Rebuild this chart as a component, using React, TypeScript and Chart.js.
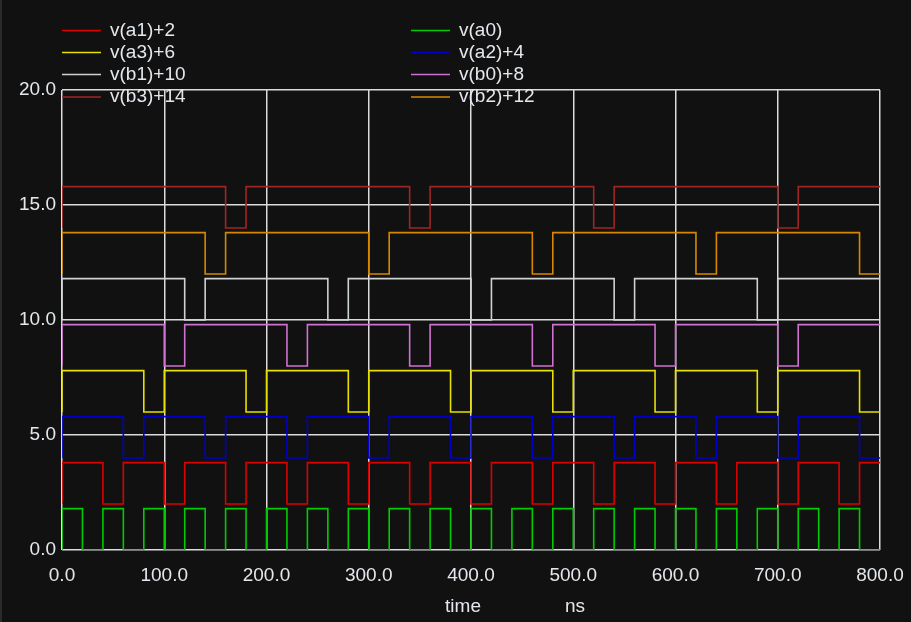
import React, { useEffect, useRef } from 'react';
import { Chart, registerables } from 'chart.js';

Chart.register(...registerables);

// ---- data ----
const seriesLabels = ['v(a1)+2', 'v(a0)', 'v(a3)+6', 'v(a2)+4', 'v(b1)+10', 'v(b0)+8', 'v(b3)+14', 'v(b2)+12'];
const seriesOffsets = [2, 0, 6, 4, 10, 8, 14, 12];
const seriesColors = ['#dd0000', '#00cc00', '#e8e000', '#0000cc', '#cdd3d3', '#d070d0', '#a02424', '#d88800'];
const highLevel = 1.8;

// toggle times (ns); every signal starts high at t = 0
const edgesA1 = [40, 60, 100, 120, 160, 180, 220, 240, 280, 300, 340, 360, 400, 420, 460, 480, 520, 540, 580, 600, 640, 660, 700, 720, 760, 780];
const edgesA0 = [20, 40, 60, 80, 100, 120, 140, 160, 180, 200, 220, 240, 260, 280, 300, 320, 340, 360, 380, 400, 420, 440, 460, 480, 500, 520, 540, 560, 580, 600, 620, 640, 660, 680, 700, 720, 740, 760, 780];
const edgesA3 = [80, 100, 180, 200, 280, 300, 380, 400, 480, 500, 580, 600, 680, 700, 780];
const edgesA2 = [60, 80, 140, 160, 220, 240, 300, 320, 380, 400, 460, 480, 540, 560, 620, 640, 700, 720, 780];
const edgesB1 = [120, 140, 260, 280, 400, 420, 540, 560, 680, 700];
const edgesB0 = [100, 120, 220, 240, 340, 360, 460, 480, 580, 600, 700, 720];
const edgesB3 = [160, 180, 340, 360, 520, 540, 700, 720];
const edgesB2 = [140, 160, 300, 320, 460, 480, 620, 640, 780];
const seriesEdges = [edgesA1, edgesA0, edgesA3, edgesA2, edgesB1, edgesB0, edgesB3, edgesB2];

const xMin = 0;
const xMax = 800;
const xStep = 100;
const yMin = 0;
const yMax = 20;
const yStep = 5;
const xTitle = 'time';
const xUnit = 'ns';

const FONT = "'Liberation Sans', Arial, sans-serif";
const TEXT_COLOR = '#e4e8ec';
const BG = '#111111';

function buildPoints(edges: number[], offset: number) {
  const pts: { x: number; y: number }[] = [];
  let level = 0;
  pts.push({ x: xMin, y: offset });
  level = highLevel;
  pts.push({ x: xMin, y: offset + level });
  for (const t of edges) {
    level = level > 0 ? 0 : highLevel;
    pts.push({ x: t, y: offset + level });
  }
  pts.push({ x: xMax, y: offset + level });
  return pts;
}

const overlayPlugin = {
  id: 'overlay',
  beforeDraw(chart: any) {
    const { ctx, width, height } = chart;
    ctx.save();
    ctx.fillStyle = BG;
    ctx.fillRect(0, 0, width, height);
    ctx.fillStyle = '#2a2a2a';
    ctx.fillRect(0, 0, 2, height);
    ctx.restore();
  },
  afterDraw(chart: any) {
    const { ctx } = chart;
    ctx.save();
    ctx.font = `19px ${FONT}`;
    ctx.textBaseline = 'middle';
    ctx.textAlign = 'left';
    const colX = [62, 411];
    const rowY = [30.5, 52.5, 74.5, 97];
    seriesLabels.forEach((lab, i) => {
      const col = i % 2;
      const row = Math.floor(i / 2);
      const x = colX[col];
      const y = rowY[row];
      ctx.strokeStyle = seriesColors[i];
      ctx.lineWidth = 1.6;
      ctx.beginPath();
      ctx.moveTo(x, y);
      ctx.lineTo(x + 39, y);
      ctx.stroke();
      ctx.fillStyle = TEXT_COLOR;
      ctx.fillText(lab, x + 48, y);
    });
    ctx.textAlign = 'center';
    ctx.fillText(xTitle, 463, 607);
    ctx.fillText(xUnit, 575, 607);
    ctx.restore();
  },
};

export default function App() {
  const ref = useRef<HTMLCanvasElement | null>(null);
  useEffect(() => {
    if (!ref.current) return;
    const datasets = seriesLabels.map((lab, i) => ({
      label: lab,
      data: buildPoints(seriesEdges[i], seriesOffsets[i]),
      borderColor: seriesColors[i],
      backgroundColor: seriesColors[i],
      borderWidth: 1.6,
      pointRadius: 0,
      stepped: 'before' as const,
      fill: false,
    }));
    const chart = new Chart(ref.current, {
      type: 'line',
      data: { datasets },
      plugins: [overlayPlugin],
      options: {
        animation: false,
        responsive: false,
        events: [],
        layout: { padding: { left: 0, top: 90, right: 31, bottom: 0 } },
        plugins: { legend: { display: false }, tooltip: { enabled: false } },
        scales: {
          x: {
            type: 'linear',
            min: xMin,
            max: xMax,
            grid: { color: '#dcdcdc', lineWidth: 1.5, drawTicks: false },
            border: { display: false },
            ticks: {
              stepSize: xStep,
              padding: 14,
              color: TEXT_COLOR,
              font: { family: FONT, size: 19 },
              maxRotation: 0,
              autoSkip: false,
              callback: (v: any) => Number(v).toFixed(1),
            },
            afterFit: (s: any) => {
              s.height = 72;
              s.paddingLeft = 0;
              s.paddingRight = 0;
            },
          },
          y: {
            type: 'linear',
            min: yMin,
            max: yMax,
            grid: { color: '#dcdcdc', lineWidth: 1.5, drawTicks: false },
            border: { display: false },
            ticks: {
              stepSize: yStep,
              padding: 6,
              color: TEXT_COLOR,
              font: { family: FONT, size: 19 },
              callback: (v: any) => Number(v).toFixed(1),
            },
            afterFit: (s: any) => {
              s.width = 62;
              s.paddingTop = 0;
              s.paddingBottom = 0;
            },
          },
        },
      },
    });
    return () => chart.destroy();
  }, []);
  return (
    <div style={{ position: 'fixed', left: 0, top: 0, width: 911, height: 622, background: BG }}>
      <canvas ref={ref} width={911} height={622} style={{ display: 'block', width: 911, height: 622 }} />
    </div>
  );
}
